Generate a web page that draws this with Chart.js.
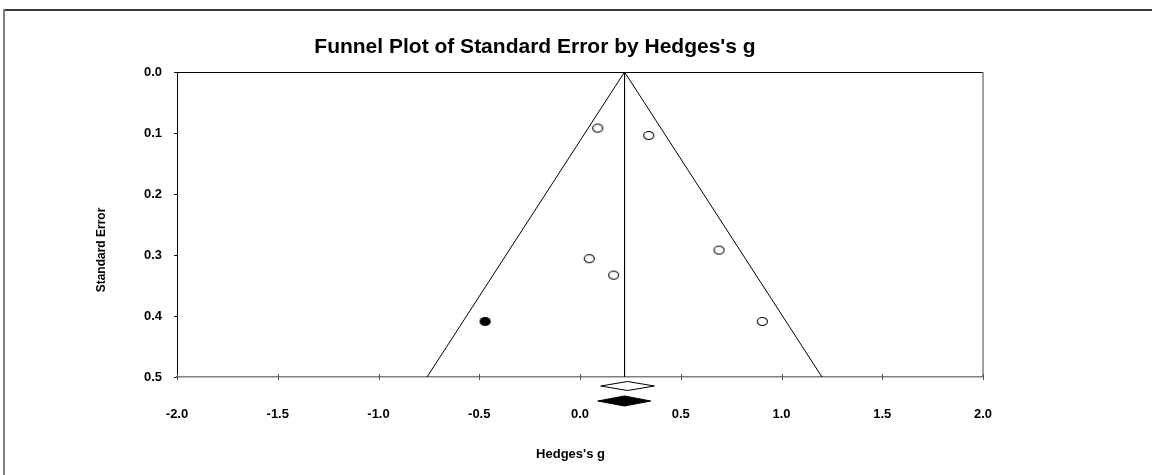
<!DOCTYPE html>
<html><head><meta charset="utf-8">
<script src="https://cdn.jsdelivr.net/npm/chart.js@4.4.1/dist/chart.umd.min.js"></script>
<style>html,body{margin:0;padding:0;background:#fff;} canvas{display:block;}</style>
</head><body>
<canvas id="c" width="1152" height="475"></canvas>
<script>
const chartTitle = "Funnel Plot of Standard Error by Hedges's g";
const xAxisTitle = "Hedges's g";
const yAxisTitle = "Standard Error";
const xTickValues = [-2.0, -1.5, -1.0, -0.5, 0.0, 0.5, 1.0, 1.5, 2.0];
const yTickValues = [0.0, 0.1, 0.2, 0.3, 0.4, 0.5];
const observedG = [0.088, 0.341, 0.690, 0.046, 0.167, 0.905];
const observedSE = [0.092, 0.104, 0.292, 0.306, 0.333, 0.409];
const imputedG = [-0.471];
const imputedSE = [0.409];
const funnelG = [-0.759, 0.221, 1.201];
const funnelSE = [0.5, 0.0, 0.5];
const centerG = [0.221, 0.221];
const centerSE = [0.0, 0.5];
const diamondLow = [0.103, 0.088];
const diamondMid = [0.236, 0.221];
const diamondHigh = [0.369, 0.351];
const diamondFilled = [false, true];

const FONT = '"Liberation Sans", Arial, Helvetica, sans-serif';

function ellipseMarker(fill) {
  const c = document.createElement('canvas');
  c.width = 13; c.height = 11;
  const g = c.getContext('2d');
  g.beginPath();
  g.ellipse(6.5, 5.5, fill ? 5.6 : 5.0, fill ? 4.6 : 4.0, 0, 0, Math.PI * 2);
  g.fillStyle = fill ? '#000' : '#fff';
  g.fill();
  if (!fill) { g.strokeStyle = '#000'; g.lineWidth = 1.1; g.stroke(); }
  return c;
}

const pts = (xs, ys) => xs.map((v, i) => ({ x: v, y: ys[i] }));

const decor = {
  id: 'decor',
  beforeDraw(chart) {
    const ctx = chart.ctx;
    ctx.save();
    ctx.fillStyle = '#fff';
    ctx.fillRect(0, 0, chart.width, chart.height);
    ctx.fillStyle = '#3a3a3a';
    ctx.fillRect(3, 9, chart.width - 3, 2);
    ctx.fillStyle = '#808080';
    ctx.fillRect(3, 9, 2, chart.height - 9);
    ctx.restore();
  },
  afterDraw(chart) {
    const { ctx, chartArea: a, scales: { x, y } } = chart;
    ctx.save();
    ctx.strokeStyle = '#000'; ctx.lineWidth = 1;
    ctx.beginPath(); ctx.moveTo(a.left, a.top + 0.5); ctx.lineTo(a.right, a.top + 0.5); ctx.stroke();
    ctx.strokeStyle = '#808080'; ctx.lineWidth = 1.5;
    ctx.beginPath(); ctx.moveTo(a.right, a.top); ctx.lineTo(a.right, a.bottom); ctx.stroke();
    ctx.strokeStyle = '#555'; ctx.lineWidth = 1;
    x.ticks.forEach(t => {
      const px = Math.round(x.getPixelForValue(t.value)) + 0.5;
      ctx.beginPath(); ctx.moveTo(px, a.bottom - 3); ctx.lineTo(px, a.bottom + 3); ctx.stroke();
    });
    const offs = [9, 24], hh = [4.5, 5];
    diamondLow.forEach((lo, i) => {
      const cy = a.bottom + offs[i];
      ctx.beginPath();
      ctx.moveTo(x.getPixelForValue(lo), cy);
      ctx.lineTo(x.getPixelForValue(diamondMid[i]), cy - hh[i]);
      ctx.lineTo(x.getPixelForValue(diamondHigh[i]), cy);
      ctx.lineTo(x.getPixelForValue(diamondMid[i]), cy + hh[i]);
      ctx.closePath();
      ctx.fillStyle = diamondFilled[i] ? '#000' : '#fff';
      ctx.fill();
      ctx.strokeStyle = '#000'; ctx.lineWidth = 1; ctx.stroke();
    });
    ctx.fillStyle = '#000';
    ctx.textAlign = 'center'; ctx.textBaseline = 'alphabetic';
    ctx.font = 'bold 21px ' + FONT;
    ctx.fillText(chartTitle, 535, 53);
    ctx.font = 'bold 13px ' + FONT;
    ctx.fillText(xAxisTitle, 570.5, 458);
    ctx.translate(105, 250);
    ctx.rotate(-Math.PI / 2);
    ctx.font = 'bold 12px ' + FONT;
    ctx.fillText(yAxisTitle, 0, 0);
    ctx.restore();
  }
};

new Chart(document.getElementById('c'), {
  type: 'scatter',
  data: {
    datasets: [
      { type: 'line', data: pts(funnelG, funnelSE), borderColor: '#000', borderWidth: 1, pointRadius: 0, fill: false, tension: 0 },
      { type: 'line', data: pts(centerG, centerSE), borderColor: '#000', borderWidth: 1, pointRadius: 0, fill: false },
      { data: pts(observedG, observedSE), pointStyle: ellipseMarker(false), pointRadius: 5 },
      { data: pts(imputedG, imputedSE), pointStyle: ellipseMarker(true), pointRadius: 5 }
    ]
  },
  options: {
    responsive: false,
    animation: false,
    devicePixelRatio: 1,
    layout: { padding: { left: 0, right: 169, top: 72, bottom: 0 } },
    plugins: { legend: { display: false }, tooltip: { enabled: false }, title: { display: false } },
    scales: {
      x: {
        type: 'linear', min: -2, max: 2,
        afterBuildTicks: s => { s.ticks = xTickValues.map(v => ({ value: v })); },
        afterFit: s => { s.height = 98; },
        grid: { display: true, drawOnChartArea: false, drawTicks: false },
        border: { display: true, color: '#808080', width: 1.5 },
        ticks: { color: '#000', padding: 30, font: { family: FONT, size: 13, weight: 'bold' }, callback: v => v.toFixed(1), maxRotation: 0, autoSkip: false }
      },
      y: {
        type: 'linear', min: 0, max: 0.5, reverse: true,
        afterBuildTicks: s => { s.ticks = yTickValues.map(v => ({ value: v })); },
        afterFit: s => { s.width = 177; },
        grid: { display: true, drawOnChartArea: false, drawTicks: true, tickLength: 3, color: '#000' },
        border: { display: true, color: '#000', width: 1 },
        ticks: { color: '#000', padding: 12, font: { family: FONT, size: 13, weight: 'bold' }, callback: v => v.toFixed(1), autoSkip: false }
      }
    }
  },
  plugins: [decor]
});
</script>
</body></html>
